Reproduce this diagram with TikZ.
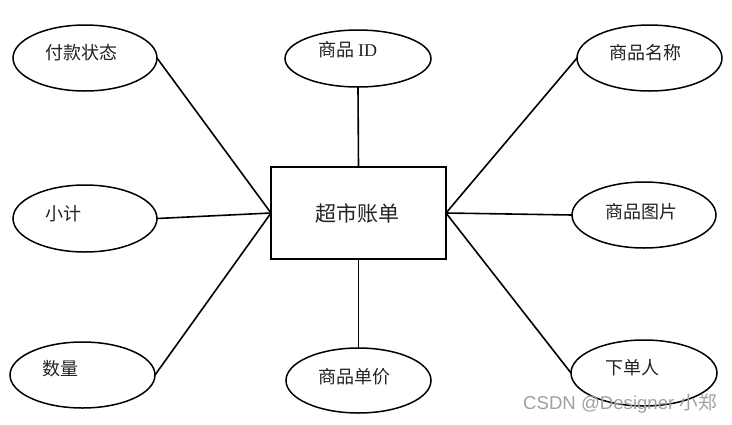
\documentclass[tikz,border=0pt]{standalone}
\usepackage{fontspec}
\usetikzlibrary{shapes.geometric}
\setmainfont{Liberation Serif}
\newfontfamily\cjk{Noto Sans CJK SC}
\newfontfamily\wmsans{Liberation Sans}
\definecolor{txt}{HTML}{222222}
\definecolor{wm}{HTML}{A0A0A0}
\tikzset{
  attr/.style={draw, ellipse, line width=1.5pt, inner sep=0pt, outer sep=0pt},
  attrtext/.style={anchor=west, inner sep=0pt, text=txt, font=\cjk\fontsize{18}{20}\selectfont},
  entity/.style={draw, rectangle, line width=2.2pt, minimum width=175pt, minimum height=92pt, inner sep=0pt, outer sep=0pt},
  link/.style={line width=1.6pt}
}
\begin{document}
\begin{tikzpicture}[x=1pt,y=-1pt]
\useasboundingbox (0,0) rectangle (732,424);
\fill[white] (0,0) rectangle (732,424);
% entity
\node[entity] (bill) at (358.5,213) {};
\node[inner sep=0pt, text=txt, font=\cjk\fontsize{21}{24}\selectfont] (billt) at (357,213) {超市账单};
% attributes
\node[attr, minimum width=144pt, minimum height=66pt] (fk) at (85,58) {};
\node[attrtext] (fkt) at (45,53) {付款状态};
\node[attr, minimum width=146pt, minimum height=57pt] (id) at (358,58.5) {};
\node[attrtext] (idt) at (318,50) {商品 {\rmfamily ID}};
\node[attr, minimum width=145pt, minimum height=66pt] (mc) at (649.5,58) {};
\node[attrtext] (mct) at (609,53) {商品名称};
\node[attr, minimum width=144pt, minimum height=67pt] (xj) at (85,218.5) {};
\node[attrtext] (xjt) at (45,214) {小计};
\node[attr, minimum width=144pt, minimum height=66pt] (tp) at (644,215) {};
\node[attrtext] (tpt) at (605,212) {商品图片};
\node[attr, minimum width=145pt, minimum height=66pt] (sl) at (82.5,375) {};
\node[attrtext] (slt) at (42,369) {数量};
\node[attr, minimum width=145pt, minimum height=65pt] (dj) at (358.5,380.5) {};
\node[attrtext] (djt) at (318,377) {商品单价};
\node[attr, minimum width=146pt, minimum height=66pt] (xdr) at (644,373) {};
\node[attrtext] (xdrt) at (605,368) {下单人};
% connectors
\draw[link] (fk.east) -- (bill.west);
\draw[link] (xj.east) -- (bill.west);
\draw[link] (sl.east) -- (bill.west);
\draw[link] (id.south) -- (bill.north);
\draw[link] (dj.north) -- (bill.south);
\draw[link] (mc.west) -- (bill.east);
\draw[link] (tp.west) -- (bill.east);
\draw[link] (xdr.west) -- (bill.east);
% watermark
\node[inner sep=0pt, text=wm, font=\fontsize{18.6}{20}\selectfont] (wmk) at (620,404) {\wmsans CSDN @Designer {\cjk 小郑}};
\end{tikzpicture}
\end{document}
